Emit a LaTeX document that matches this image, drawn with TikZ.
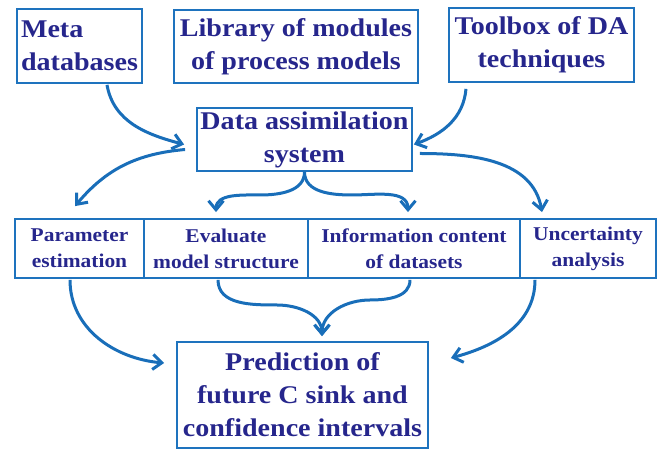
\documentclass[tikz,border=0pt]{standalone}
\usepackage{fontspec}
\setmainfont{Liberation Serif}[FakeStretch=1.1]
\usepackage{tikz}
\usetikzlibrary{arrows.meta}
\definecolor{boxblue}{RGB}{30,115,190}
\definecolor{flowblue}{RGB}{25,110,185}
\definecolor{textnavy}{RGB}{38,38,140}
\tikzset{
	bigbox/.style={draw=boxblue, line width=1.8pt, text=textnavy, align=center,
		inner sep=0pt, font=\fontsize{25.5}{33}\selectfont\bfseries}
}
\tikzset{
	rowbox/.style={draw=boxblue, line width=1.8pt, text=textnavy, align=center,
		inner sep=0pt, minimum height=59pt, font=\fontsize{19.5}{26}\selectfont\bfseries}
}
\tikzset{
	flow/.style={draw=flowblue, line width=3pt, -{Straight Barb[length=9pt,width=15pt]}}
}

\begin{document}
\begin{tikzpicture}[x=1pt, y=1pt]
      \useasboundingbox (0,0) rectangle (659,449);
      \node[bigbox, minimum width=125pt, minimum height=74pt, align=left] (meta) at (79.5,403) {Meta\\databases};
      \node[bigbox, minimum width=244pt, minimum height=73pt] (lib) at (296,402.5) {Library of modules\\of process models};
      \node[bigbox, minimum width=185pt, minimum height=74pt] (tool) at (541.5,404) {Toolbox of DA\\techniques};
      \node[bigbox, minimum width=215pt, minimum height=63pt] (da) at (304.5,309.5) {Data assimilation\\system};
      \node[rowbox, minimum width=129pt] (par) at (79.5,200.5) {Parameter\\estimation};
      \node[rowbox, minimum width=164pt] (eva) at (226,200.5) {Evaluate\\model structure};
      \node[rowbox, minimum width=212pt] (inf) at (414,200.5) {Information content\\of datasets};
      \node[rowbox, minimum width=136pt] (unc) at (588,200.5) {Uncertainty\\analysis};
      \node[bigbox, minimum width=251pt, minimum height=106pt] (pred) at (302.5,54) {Prediction of\\future C sink and\\confidence intervals};
      \coordinate (bl) at (260,254);
      \coordinate (br) at (352,254);
      \coordinate (ml) at (277,144);
      \coordinate (mr) at (370,149);
      \draw[flow] ([xshift=27.5pt,yshift=-1pt]meta.south) to[out=-80,in=165] ([xshift=-12pt,yshift=-5pt]da.west);
      \draw[flow] ([xshift=-75.5pt,yshift=-6pt]tool.south) to[out=-95,in=20] ([xshift=1pt,yshift=-5pt]da.east);
      \draw[flow] ([xshift=-11pt,yshift=-10pt]da.west) to[out=185,in=50] ([xshift=-4.5pt,yshift=12pt]par.north);
      \draw[flow] ([xshift=7pt,yshift=-14pt]da.east) to[out=0,in=100] ([xshift=-46pt,yshift=6pt]unc.north);
      \draw[flow] (da.south) to[out=-90,in=0] (bl) to[out=180,in=90] ([xshift=-10pt,yshift=6pt]eva.north);
      \draw[flow] (da.south) to[out=-90,in=180] (br) to[out=0,in=90] ([xshift=-6pt,yshift=6pt]inf.north);
      \draw[flow] ([xshift=-9.5pt,yshift=-1pt]par.south) to[out=-90,in=175] ([xshift=-12pt,yshift=32pt]pred.west);
      \draw[flow] ([xshift=-8pt,yshift=-1pt]eva.south) to[out=-90,in=180] (ml) to[out=0,in=90] ([xshift=19.5pt,yshift=5pt]pred.north);
      \draw[flow] ([xshift=-4pt,yshift=-1pt]inf.south) to[out=-90,in=0] (mr) to[out=180,in=90] ([xshift=19.5pt,yshift=5pt]pred.north);
      \draw[flow] ([xshift=-53pt,yshift=-1pt]unc.south) to[out=-90,in=15] ([xshift=22pt,yshift=37pt]pred.east);
    \end{tikzpicture}
\end{document}
